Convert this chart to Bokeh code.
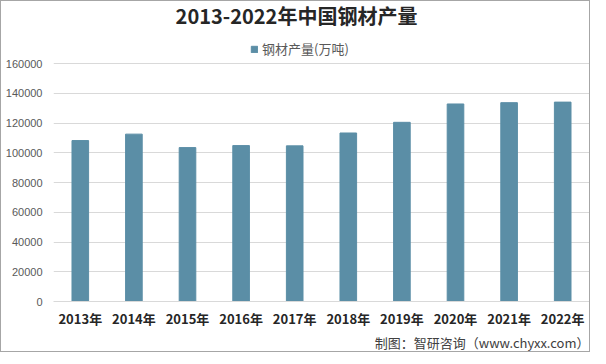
from bokeh.plotting import figure
from bokeh.models import ColumnDataSource, FactorRange, Label, Legend, LegendItem, NumeralTickFormatter, FixedTicker, Title
from bokeh.embed import file_html
from bokeh.resources import INLINE

years = ["2013年", "2014年", "2015年", "2016年", "2017年", "2018年", "2019年", "2020年", "2021年", "2022年"]
output = [108201, 112513, 103468, 104813, 104642, 113287, 120457, 132794, 133667, 134034]
series_name = "钢材产量(万吨)"
title_text = "2013-2022年中国钢材产量"
source_text = "制图：智研咨询（www.chyxx.com）"
y_ticks = [0, 20000, 40000, 60000, 80000, 100000, 120000, 140000, 160000]

FH = 300
FW = 536
Y_TOP = 160000 * FH / 238  # headroom above the top gridline for title and legend

src = ColumnDataSource(dict(year=years, val=output))

p = figure(frame_width=FW, frame_height=FH, x_range=FactorRange(*years), y_range=(0, Y_TOP),
           output_backend="svg", toolbar_location=None,
           min_border_left=52, min_border_right=0, min_border_top=0, min_border_bottom=0)
p.styles = {"border": "1px solid #a6a6a6"}

r = p.vbar(x="year", top="val", width=0.31, source=src, color="#5b8ea6")

p.add_layout(Label(x=FW / 2 - 25, y=FH - 14, x_units="screen", y_units="screen", text=title_text,
                   text_align="center", text_baseline="middle", text_font="Noto Sans CJK SC",
                   text_font_size="20px", text_font_style="bold", text_color="#262626"))

legend = Legend(items=[LegendItem(label=series_name, renderers=[r])], orientation="horizontal",
                location=(197, FH - 57), border_line_color=None, background_fill_alpha=0,
                label_text_font="Noto Sans CJK SC",
                label_text_font_size="13px", label_text_color="#595959",
                glyph_width=8, glyph_height=8, padding=2, margin=0, label_standoff=4)
p.add_layout(legend, "center")

src_title = Title(text=source_text, align="right", text_font="Noto Sans CJK SC",
                  text_font_size="13px", text_font_style="normal", text_color="#404040",
                  standoff=0, offset=0)
p.add_layout(src_title, "below")

p.yaxis.ticker = FixedTicker(ticks=y_ticks)
p.yaxis.formatter = NumeralTickFormatter(format="0")
p.yaxis.axis_line_color = None
p.yaxis.major_tick_line_color = None
p.yaxis.minor_tick_line_color = None
p.yaxis.major_label_text_font = "Liberation Sans"
p.yaxis.major_label_text_font_size = "11px"
p.yaxis.major_label_text_color = "#595959"

p.xaxis.axis_line_color = "#d9d9d9"
p.xaxis.major_tick_line_color = None
p.xaxis.minor_tick_line_color = None
p.xaxis.major_label_text_font = "Noto Sans CJK SC"
p.xaxis.major_label_text_font_size = "13px"
p.xaxis.major_label_text_font_style = "bold"
p.xaxis.major_label_text_color = "#262626"
p.xaxis.major_label_standoff = 1

p.xgrid.grid_line_color = None
p.ygrid.grid_line_color = "#d9d9d9"
p.outline_line_color = None
p.x_range.range_padding = 0.0
p.x_range.group_padding = 0.0

open("out.html", "w").write(file_html(p, INLINE))
